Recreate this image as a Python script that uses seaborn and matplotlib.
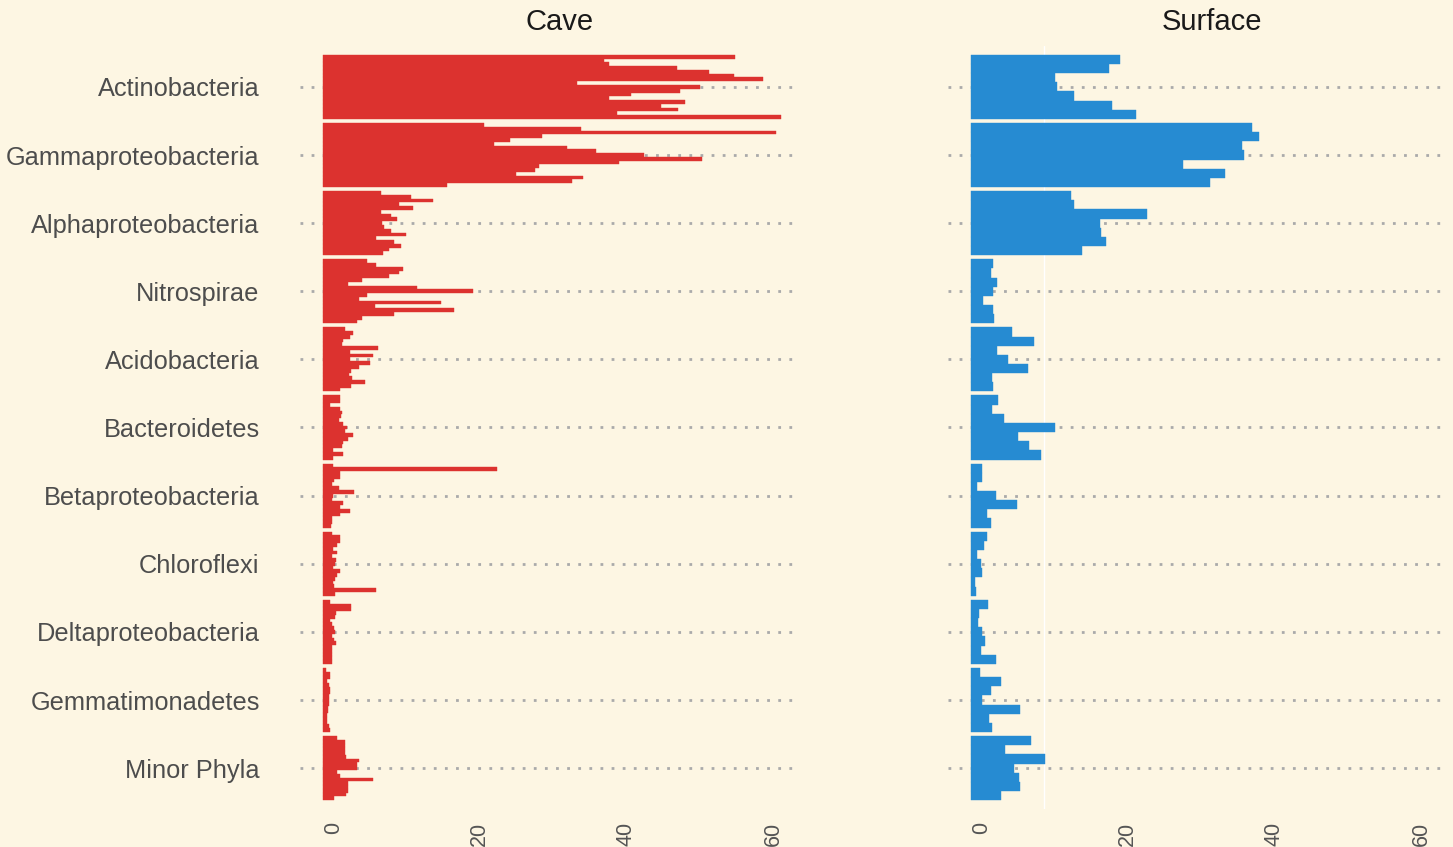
import matplotlib
matplotlib.use("Agg")
import matplotlib.pyplot as plt
import seaborn as sns
import pandas as pd

phyla = ["Actinobacteria", "Gammaproteobacteria", "Alphaproteobacteria", "Nitrospirae",
         "Acidobacteria", "Bacteroidetes", "Betaproteobacteria", "Chloroflexi",
         "Deltaproteobacteria", "Gemmatimonadetes", "Minor Phyla"]

# Cave: 17 samples per phylum (top to bottom)
cave_actinobacteria = [56.2, 38.3, 39.0, 48.3, 52.7, 56.1, 60.0, 34.7, 51.5, 48.8, 42.0, 39.0, 49.4, 46.2, 48.5, 40.2, 62.5]
cave_gammaproteobacteria = [22.0, 35.2, 61.8, 29.9, 25.6, 23.4, 33.3, 37.3, 43.8, 51.8, 40.4, 29.5, 29.0, 26.4, 35.5, 34.0, 17.0]
cave_alphaproteobacteria = [8.0, 12.1, 15.1, 10.4, 12.3, 7.9, 9.3, 10.1, 8.1, 8.3, 9.3, 11.3, 7.2, 9.7, 10.7, 9.0, 8.2]
cave_nitrospirae = [6.0, 7.3, 10.9, 10.4, 9.0, 5.4, 3.5, 12.8, 20.5, 6.1, 4.9, 16.1, 7.1, 17.9, 9.7, 5.4, 4.7]
cave_acidobacteria = [3.0, 4.1, 3.7, 2.7, 2.6, 7.5, 3.7, 6.8, 3.7, 6.4, 5.0, 3.8, 3.6, 4.0, 5.8, 3.9, 2.4]
cave_bacteroidetes = [2.4, 2.4, 1.0, 2.4, 2.6, 2.5, 2.2, 2.8, 3.3, 3.1, 4.1, 3.4, 2.8, 2.6, 1.4, 2.7, 1.4]
cave_betaproteobacteria = [1.4, 23.8, 2.4, 2.3, 1.5, 1.2, 2.2, 4.2, 1.4, 1.3, 2.8, 2.4, 3.7, 2.3, 1.2, 1.2, 1.1]
cave_chloroflexi = [1.2, 2.4, 2.3, 1.9, 1.4, 1.9, 1.2, 1.8, 1.7, 1.4, 2.4, 2.0, 1.7, 1.4, 1.5, 7.2, 1.7]
cave_deltaproteobacteria = [1.0, 3.8, 3.8, 1.8, 1.7, 1.0, 1.2, 1.5, 1.7, 1.3, 1.5, 1.8, 1.3, 1.3, 1.2, 1.2, 1.2]
cave_gemmatimonadetes = [0.5, 1.0, 1.0, 0.6, 0.9, 1.0, 1.0, 0.9, 0.8, 0.8, 0.7, 0.7, 0.6, 0.6, 0.6, 0.8, 1.0]
cave_minor_phyla = [1.9, 3.1, 3.1, 3.0, 3.0, 3.2, 5.0, 4.7, 4.7, 2.0, 2.4, 6.8, 3.4, 3.5, 3.4, 3.2, 1.5]

# Surface: 7 samples per phylum (top to bottom)
surface_actinobacteria = [20.4, 18.8, 11.5, 11.7, 14.1, 19.3, 22.5]
surface_gammaproteobacteria = [38.3, 39.3, 37.0, 37.3, 29.0, 34.7, 32.6]
surface_alphaproteobacteria = [13.7, 14.1, 24.1, 17.6, 17.8, 18.5, 15.2]
surface_nitrospirae = [3.0, 2.8, 3.6, 3.1, 1.7, 3.1, 3.2]
surface_acidobacteria = [5.6, 8.6, 3.6, 5.1, 7.8, 2.9, 3.0]
surface_bacteroidetes = [3.7, 2.9, 4.6, 11.5, 6.4, 7.9, 9.6]
surface_betaproteobacteria = [1.6, 1.6, 0.8, 3.4, 6.3, 2.2, 2.8]
surface_chloroflexi = [2.2, 1.8, 0.9, 1.4, 1.6, 0.6, 0.7]
surface_deltaproteobacteria = [2.3, 1.1, 1.0, 1.6, 2.0, 1.4, 3.4]
surface_gemmatimonadetes = [1.3, 4.1, 2.7, 1.5, 6.7, 2.5, 2.9]
surface_minor_phyla = [8.2, 4.7, 10.1, 5.9, 6.6, 6.7, 4.1]

x_ticks = [0, 20, 40, 60]
panel_titles = ["Cave", "Surface"]

cave_lists = [cave_actinobacteria, cave_gammaproteobacteria, cave_alphaproteobacteria,
              cave_nitrospirae, cave_acidobacteria, cave_bacteroidetes,
              cave_betaproteobacteria, cave_chloroflexi, cave_deltaproteobacteria,
              cave_gemmatimonadetes, cave_minor_phyla]
surface_lists = [surface_actinobacteria, surface_gammaproteobacteria, surface_alphaproteobacteria,
                 surface_nitrospirae, surface_acidobacteria, surface_bacteroidetes,
                 surface_betaproteobacteria, surface_chloroflexi, surface_deltaproteobacteria,
                 surface_gemmatimonadetes, surface_minor_phyla]


def to_long(lists):
    rows = []
    for ph, vals in zip(phyla, lists):
        for i, v in enumerate(vals):
            rows.append({"phylum": ph, "sample": f"S{i+1:02d}", "value": v})
    return pd.DataFrame(rows)


cave_df = to_long(cave_lists)
surface_df = to_long(surface_lists)

BG = "#FDF6E3"
RED = "#DC322F"
BLUE = "#268BD2"

sns.set_style("white")
plt.rcParams["font.family"] = ["Liberation Sans", "DejaVu Sans"]

fig = plt.figure(figsize=(14.53, 8.47), dpi=100, facecolor=BG)
W, H = 1453, 847
ax_bottom = (H - 809) / H
ax_height = (809 - 46) / H
ax_cave = fig.add_axes([300 / W, ax_bottom, 500 / W, ax_height])
ax_surf = fig.add_axes([948 / W, ax_bottom, 500 / W, ax_height])

for ax, df, color, title, tx in [(ax_cave, cave_df, RED, panel_titles[0], 0.52),
                                 (ax_surf, surface_df, BLUE, panel_titles[1], 0.527)]:
    ax.set_facecolor(BG)
    n = df["sample"].nunique()
    sns.barplot(data=df, y="phylum", x="value", hue="sample", order=phyla,
                orient="h", dodge=True, palette=[color] * n, width=0.94,
                saturation=1, legend=False, ax=ax, errorbar=None,
                linewidth=0.3, edgecolor=color)
    ax.set_xlim(-3.1, 65.1)
    ax.set_ylim(10.6, -0.6)
    ax.set_xticks(x_ticks)
    ax.set_xticklabels([str(t) for t in x_ticks])
    ax.tick_params(axis="x", length=0, pad=9, labelsize=15.5, labelcolor="#555555",
                   labelrotation=90)
    for lbl in ax.get_xticklabels():
        lbl.set_horizontalalignment("left")
    ax.tick_params(axis="y", length=0, pad=29, labelsize=18.3, labelcolor="#4d4d4d")
    ax.set_xlabel("")
    ax.set_ylabel("")
    ax.xaxis.grid(False)
    ax.yaxis.grid(True, linestyle=(0, (1, 3)), linewidth=2, color="#aaaaaa")
    ax.set_axisbelow(True)
    for s in ax.spines.values():
        s.set_visible(False)
    ax.text(tx, 1 + (46 - 22) / (809 - 46), title, transform=ax.transAxes,
            ha="center", va="center", fontsize=21, color="#1a1a1a")

ax_surf.set_yticklabels([])
ax_surf.axvline(10, color="white", linewidth=1, zorder=0.5)

fig.savefig("out.png", dpi=100, facecolor=BG)
